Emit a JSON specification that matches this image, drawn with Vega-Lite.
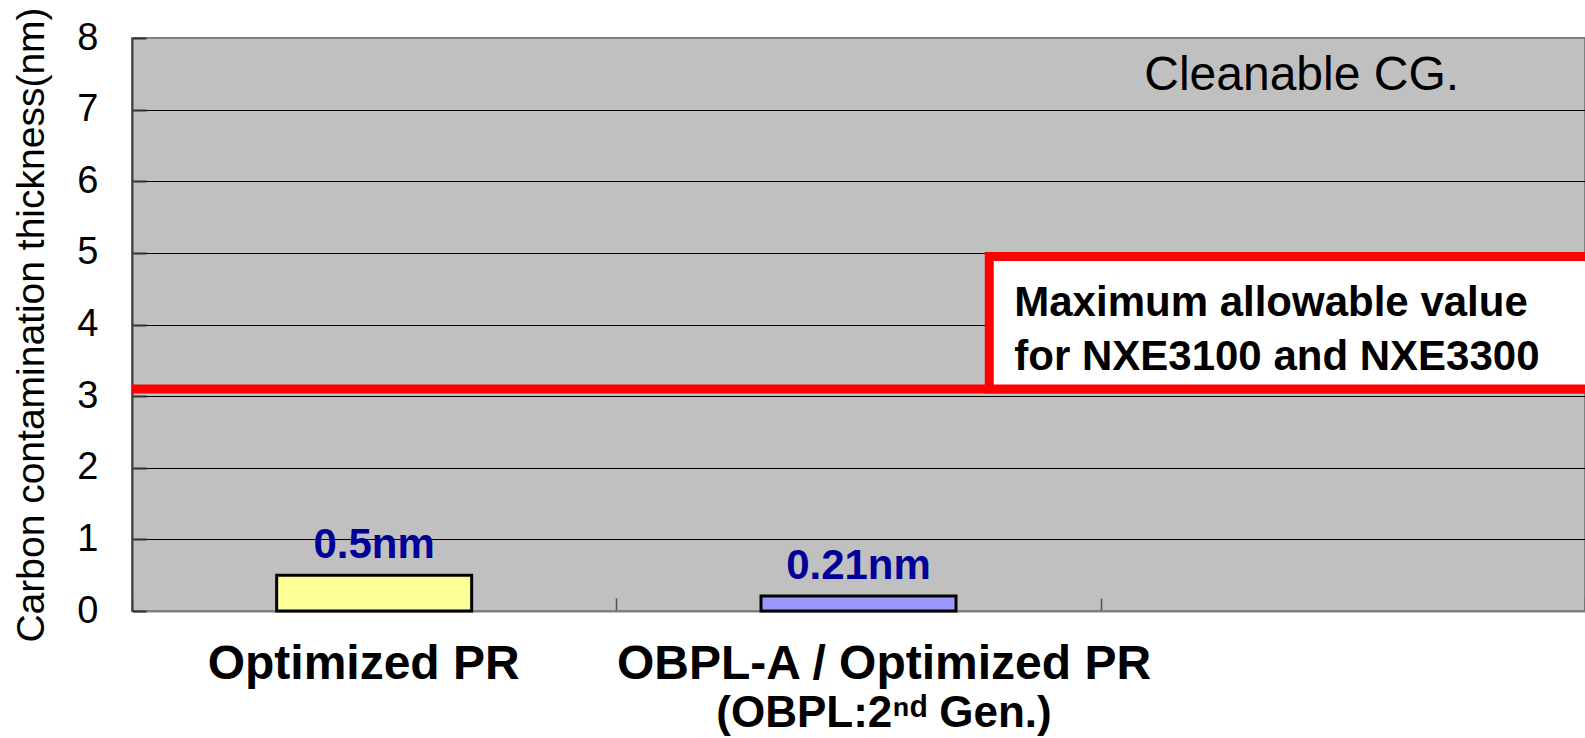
{
  "$schema": "https://vega.github.io/schema/vega-lite/v6.json",
  "width": 1453,
  "height": 573,
  "autosize": {"type": "none"},
  "padding": {"left": 132, "top": 38, "right": 0, "bottom": 127},
  "background": "white",
  "config": {
    "font": "Liberation Sans",
    "view": {"fill": "#C0C0C0", "stroke": "#808080", "strokeWidth": 2}
  },
  "datasets": {
    "samples": [
      {"sample": "Optimized PR", "thickness": 0.5, "label": "0.5nm"},
      {"sample": "OBPL-A / Optimized PR", "thickness": 0.21, "label": "0.21nm"}
    ],
    "limit": [{"limit": 3.1}],
    "box": [
      {"x0": 1.77, "x1": 3.05, "lo": 3.1, "hi": 4.95, "note": "Maximum allowable value\nfor NXE3100 and NXE3300"}
    ],
    "corner": [{"pos": 2.09, "level": 8, "text": "Cleanable CG."}]
  },
  "layer": [
    {
      "data": {"name": "samples"},
      "mark": {"type": "bar", "size": 195, "stroke": "black", "strokeWidth": 3},
      "encoding": {
        "x": {
          "field": "sample",
          "type": "nominal",
          "sort": null,
          "scale": {"domain": ["Optimized PR", "OBPL-A / Optimized PR", ""], "paddingInner": 0, "paddingOuter": 0},
          "axis": {
            "title": null,
            "orient": "bottom",
            "tickBand": "extent",
            "tickSize": -13,
            "tickColor": "#505050",
            "tickWidth": 1.5,
            "domainColor": "#808080",
            "domainWidth": 2,
            "labelFontSize": 48,
            "labelFontWeight": "bold",
            "labelColor": "black",
            "labelBaseline": "alphabetic",
            "labelPadding": 80,
            "labelLimit": 1000,
            "labelOverlap": false,
            "labelAngle": 0,
            "labelOffset": {"condition": {"test": "datum.value === 'Optimized PR'", "value": -11}, "value": 25}
          }
        },
        "y": {
          "field": "thickness",
          "type": "quantitative",
          "scale": {"domain": [0, 8], "nice": false},
          "axis": {
            "title": "Carbon contamination thickness(nm)",
            "values": [0, 1, 2, 3, 4, 5, 6, 7, 8],
            "format": "d",
            "grid": true,
            "gridColor": {"condition": {"test": "datum.value === 8 || datum.value === 0", "value": "transparent"}, "value": "#000000"},
            "gridWidth": 1,
            "domainColor": "#404040",
            "domainWidth": 2,
            "tickColor": "#303030",
            "tickSize": -14,
            "tickWidth": 2,
            "labelFontSize": 38,
            "labelColor": "black",
            "labelPadding": 48,
            "titleFontSize": 39,
            "titleFontWeight": "normal",
            "titleColor": "black",
            "titlePadding": 25
          }
        },
        "color": {
          "field": "sample",
          "type": "nominal",
          "scale": {"domain": ["Optimized PR", "OBPL-A / Optimized PR"], "range": ["#FFFF99", "#9999FF"]},
          "legend": null
        }
      }
    },
    {
      "data": {"name": "samples"},
      "mark": {"type": "text", "fontSize": 42, "fontWeight": "bold", "color": "#000099", "baseline": "alphabetic", "dy": -17},
      "encoding": {
        "x": {
          "field": "sample",
          "type": "nominal",
          "sort": null,
          "scale": {"domain": ["Optimized PR", "OBPL-A / Optimized PR", ""], "paddingInner": 0, "paddingOuter": 0},
          "axis": {
            "title": null,
            "orient": "bottom",
            "domain": false,
            "ticks": false,
            "labelFontSize": 44,
            "labelFontWeight": "bold",
            "labelColor": "black",
            "labelBaseline": "alphabetic",
            "labelPadding": 115,
            "labelLimit": 1000,
            "labelOverlap": false,
            "labelAngle": 0,
            "labelOffset": 25,
            "labelExpr": "datum.value === 'OBPL-A / Optimized PR' ? '(OBPL:2ⁿᵈ Gen.)' : ''"
          }
        },
        "y": {"field": "thickness", "type": "quantitative", "scale": {"domain": [0, 8], "nice": false}},
        "text": {"field": "label"}
      }
    },
    {
      "layer": [
        {
          "data": {"name": "limit"},
          "mark": {"type": "rule", "color": "#FF0000", "strokeWidth": 9},
          "encoding": {
            "y": {"field": "limit", "type": "quantitative", "scale": {"domain": [0, 8], "nice": false}}
          }
        },
        {
          "data": {"name": "box"},
          "mark": {"type": "rect", "fill": "white", "stroke": "#FF0000", "strokeWidth": 9},
          "encoding": {
            "x": {"field": "x0", "type": "quantitative", "scale": {"domain": [0, 3], "nice": false, "zero": false}, "axis": null},
            "x2": {"field": "x1"},
            "y": {"field": "lo", "type": "quantitative", "scale": {"domain": [0, 8], "nice": false}},
            "y2": {"field": "hi"}
          }
        },
        {
          "data": {"name": "box"},
          "mark": {"type": "text", "fontSize": 42, "fontWeight": "bold", "color": "black", "align": "left", "baseline": "top", "lineBreak": "\n", "lineHeight": 54, "dx": 25, "dy": 27},
          "encoding": {
            "x": {"field": "x0", "type": "quantitative", "scale": {"domain": [0, 3], "nice": false, "zero": false}, "axis": null},
            "y": {"field": "hi", "type": "quantitative", "scale": {"domain": [0, 8], "nice": false}},
            "text": {"field": "note"}
          }
        },
        {
          "data": {"name": "corner"},
          "mark": {"type": "text", "fontSize": 48, "color": "black", "align": "left", "baseline": "top", "dy": 14},
          "encoding": {
            "x": {"field": "pos", "type": "quantitative", "scale": {"domain": [0, 3], "nice": false, "zero": false}, "axis": null},
            "y": {"field": "level", "type": "quantitative", "scale": {"domain": [0, 8], "nice": false}},
            "text": {"field": "text"}
          }
        }
      ]
    }
  ],
  "resolve": {"scale": {"x": "independent"}}
}
